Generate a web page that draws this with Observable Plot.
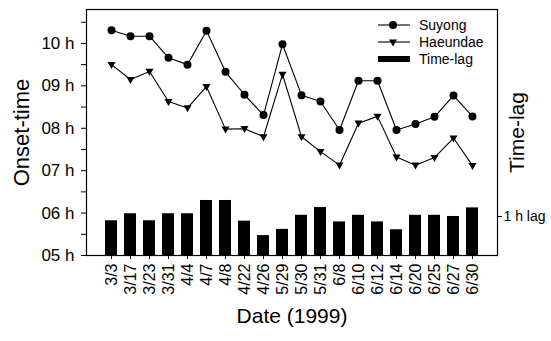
<!DOCTYPE html>
<html><head><meta charset="utf-8">
<script src="https://cdn.jsdelivr.net/npm/d3@7"></script>
<script src="https://cdn.jsdelivr.net/npm/@observablehq/plot@0.6"></script>
<style>
html,body{margin:0;padding:0;background:#fff;}
#chart{position:relative;width:551px;height:341px;background:#fff;}
#legend{position:absolute;left:0;top:0;pointer-events:none;}
</style></head><body><div id="chart"></div>
<script>
const dates = ["3/3","3/17","3/23","3/31","4/4","4/7","4/8","4/22","4/26","5/29","5/30","5/31","6/8","6/10","6/12","6/14","6/20","6/25","6/27","6/30"];
const suyong = [10.31,10.17,10.17,9.66,9.50,10.30,9.33,8.79,8.31,9.98,8.78,8.63,7.96,9.12,9.12,7.96,8.10,8.27,8.77,8.28];
const haeundae = [9.50,9.15,9.34,8.63,8.48,8.98,7.98,7.99,7.80,9.27,7.80,7.45,7.13,8.12,8.28,7.32,7.13,7.31,7.77,7.12];
const timeLag = [0.89,1.07,0.89,1.07,1.07,1.41,1.41,0.88,0.51,0.67,1.03,1.23,0.86,1.03,0.86,0.66,1.03,1.03,1.00,1.22];
const onsetTicks = [5,6,7,8,9,10];
const onsetTickLabels = ["05 h","06 h","07 h","08 h","09 h","10 h"];
const halfTicks = [5.5,6.5,7.5,8.5,9.5,10.5];
const lagTickLabel = "1 h lag";
const lagBase = 5;     // bars stand on the 05 h line
const lagUnit = 0.92;  // height of one hour of lag on the onset axis
const seriesNames = ["Suyong","Haeundae","Time-lag"];
const xTitle = "Date (1999)";
const yTitle = "Onset-time";
const y2Title = "Time-lag";

const rows = dates.map((d, i) => ({date: d, suyong: suyong[i], haeundae: haeundae[i], lag: timeLag[i]}));

const triangleDown = {
  draw(ctx, size) {
    const s = Math.sqrt(size / Math.PI);
    ctx.moveTo(-s, -s * 0.65);
    ctx.lineTo(s, -s * 0.65);
    ctx.lineTo(0, s * 1.1);
    ctx.closePath();
  }
};

const font = "'Liberation Sans', Arial, Helvetica, sans-serif";

const chart = Plot.plot({
  width: 551, height: 341,
  marginLeft: 86, marginRight: 54, marginTop: 9, marginBottom: 86,
  style: {fontFamily: font, background: "#fff", color: "#000", overflow: "visible"},
  x: {type: "band", domain: dates, paddingInner: 0.36, paddingOuter: 0.65, label: null},
  y: {domain: [5, 10.8], label: null},
  marks: [
    Plot.barY(rows, {x: "date", y1: lagBase, y2: d => lagBase + d.lag * lagUnit, fill: "#000"}),
    Plot.line(rows, {x: "date", y: "suyong", stroke: "#000", strokeWidth: 1.1}),
    Plot.line(rows, {x: "date", y: "haeundae", stroke: "#000", strokeWidth: 1.1}),
    Plot.dot(rows, {x: "date", y: "suyong", r: 4, fill: "#000", stroke: null}),
    Plot.dot(rows, {x: "date", y: "haeundae", r: 4, symbol: triangleDown, fill: "#000", stroke: null}),
    Plot.frame({stroke: "#000", strokeWidth: 1.2}),
    Plot.axisY(onsetTicks, {tickSize: 5, tickPadding: 7, fontSize: 17, tickFormat: d => onsetTickLabels[onsetTicks.indexOf(d)], label: null}),
    Plot.axisY(halfTicks, {tickSize: 5, tickFormat: () => "", label: null}),
    Plot.axisY([lagBase + lagUnit], {anchor: "right", tickSize: 4, tickPadding: 2, fontSize: 14, tickFormat: () => lagTickLabel, label: null}),
    Plot.axisX({tickRotate: -90, tickSize: 4, tickPadding: 4, fontSize: 16, label: null}),
    Plot.text([yTitle], {text: d => d, frameAnchor: "left", textAnchor: "middle", dx: -65, rotate: -90, fontSize: 22}),
    Plot.text([y2Title], {text: d => d, frameAnchor: "right", textAnchor: "middle", dx: 20, rotate: -90, fontSize: 21}),
    Plot.text([xTitle], {text: d => d, frameAnchor: "bottom", dy: 67, fontSize: 21})
  ]
});
const root = document.getElementById("chart");
root.appendChild(chart);

// legend overlay (inside the plot frame, top right)
const lg = d3.select(root).append("svg").attr("id", "legend").attr("width", 551).attr("height", 341)
  .style("font-family", font);
const rowsY = [25, 42, 59];
seriesNames.forEach((name, i) => {
  const g = lg.append("g").attr("transform", `translate(0,${rowsY[i]})`);
  if (i < 2) {
    g.append("line").attr("x1", 378).attr("x2", 410).attr("stroke", "#000").attr("stroke-width", 1.1);
    if (i === 0) g.append("circle").attr("cx", 393).attr("r", 4).attr("fill", "#000");
    else g.append("path").attr("transform", "translate(393,0)").attr("d", d3.symbol(triangleDown, Math.PI * 16)()).attr("fill", "#000");
  } else {
    g.append("rect").attr("x", 378).attr("y", -3).attr("width", 32).attr("height", 6).attr("fill", "#000");
  }
  g.append("text").attr("x", 419).attr("dy", "0.35em").attr("font-size", 14).text(name);
});
</script>
</body></html>
